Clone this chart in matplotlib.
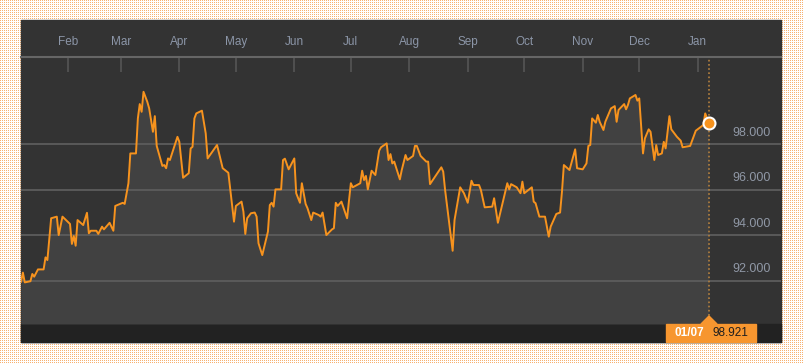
import datetime as dt
import numpy as np
import matplotlib
matplotlib.use('Agg')
import matplotlib.pyplot as plt
import matplotlib.dates as mdates
import matplotlib.transforms as mtransforms
from matplotlib.patches import Rectangle, Polygon

plt.rcParams['font.family'] = ['Liberation Sans', 'DejaVu Sans']

# data: days since 2015-01-07 and index value
start = dt.date(2015, 1, 7)
day_offsets = [0, 1, 2, 5, 6, 7, 9, 12, 13, 14, 16, 19,
               20, 22, 26, 27, 28, 29, 30, 33, 35, 36, 37, 40,
               41, 43, 44, 47, 49, 50, 54, 55, 57, 58, 61, 62,
               63, 64, 65, 67, 68, 70, 71, 72, 75, 76, 77, 78,
               79, 83, 84, 86, 89, 90, 91, 92, 93, 96, 98, 99,
               104, 107, 110, 113, 114, 117, 118, 119, 120, 122, 124, 125,
               126, 128, 131, 132, 133, 134, 135, 138, 139, 140, 142, 145,
               146, 148, 149, 151, 152, 154, 155, 158, 159, 160, 162, 165,
               166, 167, 168, 170, 173, 175, 176, 180, 181, 182, 183, 184,
               186, 188, 190, 191, 194, 195, 196, 197, 198, 201, 202, 204,
               205, 208, 209, 210, 212, 215, 216, 217, 223, 224, 225, 229,
               230, 233, 235, 237, 239, 240, 243, 244, 246, 250, 251, 253,
               258, 259, 260, 263, 265, 266, 267, 271, 272, 273, 275, 278,
               280, 281, 284, 286, 287, 288, 291, 294, 295, 298, 300, 301,
               302, 303, 305, 306, 307, 309, 310, 313, 315, 316, 317, 320,
               321, 322, 323, 326, 327, 328, 330, 331, 333, 334, 336, 337,
               338, 340, 341, 342, 344, 345, 348, 350, 351, 355, 358, 362,
               363, 365]
values = [91.96, 92.36, 91.93, 91.98, 92.30, 92.18, 92.50, 92.50, 93.03, 92.91, 94.75, 94.82,
          94.01, 94.82, 94.50, 93.62, 93.97, 93.54, 94.67, 94.45, 94.99, 94.09, 94.20, 94.20,
          94.06, 94.38, 94.26, 94.55, 94.20, 95.29, 95.43, 95.38, 96.29, 97.60, 97.60, 99.14,
          99.77, 99.43, 100.31, 99.87, 99.58, 98.55, 99.24, 97.93, 97.05, 97.09, 96.95, 97.38,
          97.31, 98.33, 98.11, 96.53, 96.73, 97.82, 97.89, 99.14, 99.36, 99.48, 98.48, 97.38,
          97.97, 96.95, 96.75, 94.60, 95.29, 95.48, 95.04, 94.06, 94.75, 94.97, 95.00, 94.82,
          93.65, 93.13, 94.16, 95.33, 95.43, 95.26, 96.02, 96.02, 97.31, 97.37, 96.90, 97.38,
          95.85, 95.43, 96.29, 95.38, 95.19, 94.67, 95.00, 94.89, 94.82, 95.00, 94.01, 94.26,
          94.31, 95.43, 95.29, 95.48, 94.75, 96.29, 96.11, 96.29, 96.84, 96.43, 96.61, 96.02,
          96.84, 96.65, 97.72, 97.87, 98.04, 97.31, 97.57, 97.16, 97.24, 96.46, 96.87, 97.53,
          97.31, 97.49, 97.93, 97.93, 97.49, 97.24, 97.24, 96.25, 96.99, 96.80, 95.99, 93.32,
          94.67, 96.11, 95.85, 95.43, 96.40, 96.21, 96.21, 95.99, 95.23, 95.26, 95.63, 94.55,
          96.29, 96.02, 96.25, 96.11, 95.85, 96.36, 95.85, 96.11, 95.48, 95.41, 94.82, 94.82,
          93.94, 94.38, 94.94, 95.00, 95.92, 97.09, 96.87, 97.78, 96.95, 96.90, 97.16, 97.93,
          97.97, 99.14, 98.95, 99.29, 98.99, 98.63, 98.99, 99.58, 99.68, 98.99, 99.51, 99.77,
          99.54, 99.73, 100.02, 100.17, 99.92, 100.02, 97.60, 98.26, 98.66, 98.55, 97.31, 97.97,
          97.53, 97.60, 98.11, 97.82, 99.24, 98.66, 98.33, 98.16, 97.87, 97.93, 98.60, 98.85,
          99.36, 98.921]
y_ticks = [92, 94, 96, 98]
month_ticks = [dt.date(2015, m, 1) for m in range(2, 13)] + [dt.date(2016, 1, 1)]
last_date_label = '01/07'
last_value_label = '98.921'

W, H = 804, 363
fig = plt.figure(figsize=(W / 100, H / 100), dpi=100)

# dotted orange page background
bg = np.ones((H, W, 3))
bg[::2, ::2] = [0.97, 0.70, 0.45]
fig.figimage(bg, 0, 0, zorder=0)

def fx(px):
    return px / W

def fy(py):
    return 1 - py / H

fig.add_artist(Rectangle((fx(21), fy(342)), 760 / W, 322 / H, transform=fig.transFigure,
                         color='#333333', zorder=1))
fig.add_artist(Rectangle((fx(21), fy(342)), 760 / W, 18 / H, transform=fig.transFigure,
                         color='#222222', zorder=1.5))

ax = fig.add_axes([fx(21), fy(324), 760 / W, (324 - 57) / H])
ax.set_facecolor('none')
ax.set_zorder(2)

x0 = mdates.date2num(start)
x = [mdates.date2num(start + dt.timedelta(days=d)) for d in day_offsets]
ymin, ymax = 90.10, 101.84
ax.set_xlim(x0, x0 + 403.2)
ax.set_ylim(ymin, ymax)

ax.fill_between(x, values, ymin, color='#414141', lw=0, zorder=1)
for v in y_ticks:
    ax.axhline(v, color='#5c5c5c', lw=1.3, zorder=2)
ax.axvline(x[-1], color='#b5813f', lw=1.2, ls=(0, (1, 1.5)), zorder=2.5)
ax.plot(x, values, color='#f7931e', lw=1.4, zorder=3, solid_joinstyle='round')
ax.plot(x[-1], values[-1], 'o', ms=8.6, mfc='#f7931e', mec='white', mew=1.5, zorder=4)

for s in ['left', 'right', 'bottom']:
    ax.spines[s].set_visible(False)
ax.spines['top'].set_color('#666666')
ax.spines['top'].set_linewidth(1.5)
ax.set_yticks([])
ax.xaxis.tick_top()
ax.set_xticks([mdates.date2num(m) for m in month_ticks])
ax.tick_params(axis='x', direction='in', length=11, width=1.2, color='#555555',
               labeltop=False, labelbottom=False)

tx = mtransforms.blended_transform_factory(ax.transData, ax.transAxes)
for m in month_ticks:
    ax.text(mdates.date2num(m), 1 + 15 / 267, m.strftime('%b'), transform=tx,
            ha='center', va='center', fontsize=8.5, color='#8c96a8')

ty = mtransforms.offset_copy(mtransforms.blended_transform_factory(ax.transAxes, ax.transData),
                             fig=fig, y=11.6 * 0.72, units='points')
for v in y_ticks:
    ax.text(0.9868, v, f'{v:.3f}', transform=ty, ha='right', va='center',
            fontsize=9, color='#9098a6')

# label box under the last point
xl = ax.transData.transform((x[-1], values[-1]))[0]
fig.add_artist(Rectangle((fx(xl - 43), fy(342)), 90 / W, 18 / H, transform=fig.transFigure,
                         color='#f7962f', zorder=3))
fig.add_artist(Polygon([(fx(xl - 8), fy(324)), (fx(xl), fy(316)), (fx(xl + 8), fy(324))],
                       closed=True, transform=fig.transFigure, color='#f7962f', zorder=3))
fig.text(fx(xl - 4.5), fy(333.5), last_date_label, ha='right', va='center',
         fontsize=8.5, fontweight='bold', color='white', zorder=4)
fig.text(fx(xl + 4), fy(333.5), last_value_label, ha='left', va='center',
         fontsize=8.5, color='#1e1e1e', zorder=4)

fig.savefig('out.png', dpi=100)
